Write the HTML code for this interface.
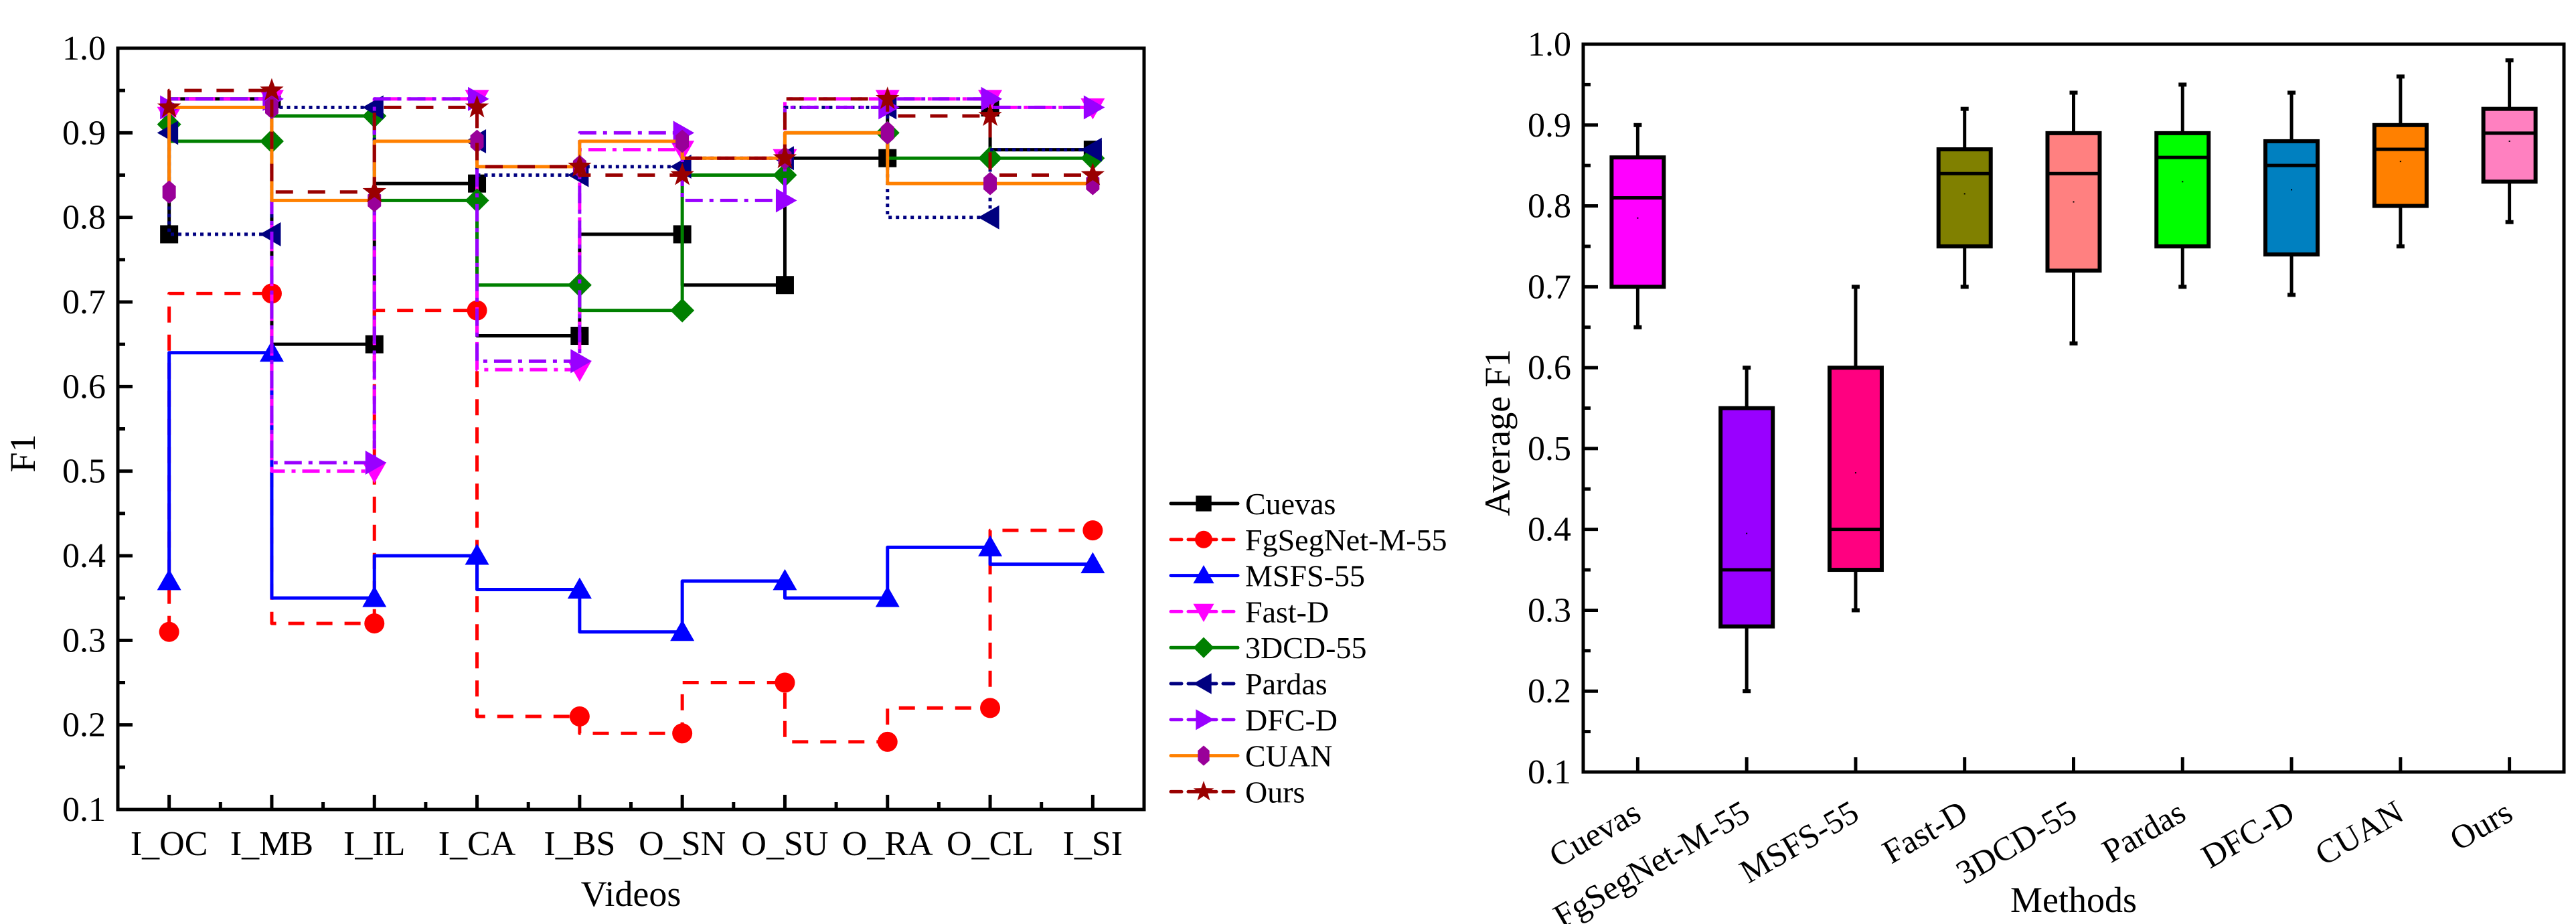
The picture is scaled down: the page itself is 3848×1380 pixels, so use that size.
<!DOCTYPE html>
<html><head><meta charset="utf-8"><style>
html,body{margin:0;padding:0;background:#fff;}
svg{display:block;}
text{font-family:"Liberation Serif","Times New Roman","DejaVu Serif",serif;}
</style></head>
<body>
<svg id="chart" width="3848" height="1380" viewBox="0 0 3848 1380" xmlns="http://www.w3.org/2000/svg" font-family="Liberation Serif, serif">
<g id="left"></g>
<g id="right"></g>
</svg>
<script>
// ---------- Left chart data ----------
const videos = ["I_OC","I_MB","I_IL","I_CA","I_BS","O_SN","O_SU","O_RA","O_CL","I_SI"];
const seriesNames = ["Cuevas","FgSegNet-M-55","MSFS-55","Fast-D","3DCD-55","Pardas","DFC-D","CUAN","Ours"];
const cuevas   = [0.78,0.94,0.65,0.84,0.66,0.78,0.72,0.87,0.93,0.88];
const fgsegnet = [0.31,0.71,0.32,0.69,0.21,0.19,0.25,0.18,0.22,0.43];
const msfs     = [0.37,0.64,0.35,0.40,0.36,0.31,0.37,0.35,0.41,0.39];
const fastd    = [0.92,0.94,0.50,0.94,0.62,0.88,0.87,0.94,0.94,0.93];
const dcd3     = [0.91,0.89,0.92,0.82,0.72,0.69,0.85,0.90,0.87,0.87];
const pardas   = [0.90,0.78,0.93,0.89,0.85,0.86,0.87,0.93,0.80,0.88];
const dfcd     = [0.93,0.94,0.51,0.94,0.63,0.90,0.82,0.93,0.94,0.93];
const cuan     = [0.83,0.93,0.82,0.89,0.86,0.89,0.87,0.90,0.84,0.84];
const ours     = [0.93,0.95,0.83,0.93,0.86,0.85,0.87,0.94,0.92,0.85];
const yTicks = ["0.1","0.2","0.3","0.4","0.5","0.6","0.7","0.8","0.9","1.0"];

// ---------- Right chart data ----------
const methods = ["Cuevas","FgSegNet-M-55","MSFS-55","Fast-D","3DCD-55","Pardas","DFC-D","CUAN","Ours"];
const bMin = [0.65,0.20,0.30,0.70,0.63,0.70,0.69,0.75,0.78];
const bQ1  = [0.70,0.28,0.35,0.75,0.72,0.75,0.74,0.80,0.83];
const bMed = [0.81,0.35,0.40,0.84,0.84,0.86,0.85,0.87,0.89];
const bQ3  = [0.86,0.55,0.60,0.87,0.89,0.89,0.88,0.90,0.92];
const bMax = [0.90,0.60,0.70,0.92,0.94,0.95,0.94,0.96,0.98];
const bMean= [0.785,0.395,0.47,0.815,0.805,0.83,0.82,0.855,0.88];

const NS="http://www.w3.org/2000/svg";
const FONT='"Liberation Serif", "Times New Roman", serif';
function mk(tag, attrs, parent){const e=document.createElementNS(NS,tag);for(const k in attrs)e.setAttribute(k,attrs[k]);if(tag==='text')e.setAttribute('font-family',FONT);parent.appendChild(e);return e;}

// ===== LEFT =====
const L = document.getElementById('left');
const lx0=176, lx1=1709, ly0=72, ly1=1209;
const lStep=(lx1-lx0)/videos.length;
const lxs=i=>lx0+lStep/2+i*lStep;
const lys=v=>ly1-(v-0.1)/0.9*(ly1-ly0);

for(let i=0;i<yTicks.length;i++){
  const v=+yTicks[i], y=lys(v);
  const t=mk('line',{x1:lx0,y1:y,x2:lx0+22,y2:y,stroke:'#000','stroke-width':5},L);
   
  if(i<yTicks.length-1){const ym=lys(v+0.05);const m=mk('line',{x1:lx0,y1:ym,x2:lx0+11,y2:ym,stroke:'#000','stroke-width':5},L);
   }
  const tx=mk('text',{x:lx0-18,y:y+17,'font-size':52,'text-anchor':'end'},L); tx.textContent=yTicks[i];
   
}
for(let i=0;i<videos.length;i++){
  const x=lxs(i);
  const t=mk('line',{x1:x,y1:ly1,x2:x,y2:ly1-22,stroke:'#000','stroke-width':5},L);
   
  if(i<videos.length-1){const m=mk('line',{x1:x+lStep/2,y1:ly1,x2:x+lStep/2,y2:ly1-11,stroke:'#000','stroke-width':5},L);
   }
  const tx=mk('text',{x:x,y:ly1+68,'font-size':52,'text-anchor':'middle'},L); tx.textContent=videos[i];
   
}
let t1=mk('text',{x:(lx0+lx1)/2,y:1353,'font-size':54,'text-anchor':'middle'},L); t1.textContent='Videos';
 
t1=mk('text',{x:0,y:0,'font-size':54,'text-anchor':'middle',transform:'translate(52,677) rotate(-90)'},L); t1.textContent='F1';
 

const styles=[
 {d:cuevas,c:'#000000',mc:'#000000',dash:'',m:'square'},
 {d:fgsegnet,c:'#ff0000',mc:'#ff0000',dash:'24 18',m:'circle'},
 {d:msfs,c:'#0000ff',mc:'#0000ff',dash:'',m:'up'},
 {d:fastd,c:'#ff00ff',mc:'#ff00ff',dash:'26 10 6 10',m:'down'},
 {d:dcd3,c:'#008000',mc:'#008000',dash:'',m:'diamond'},
 {d:pardas,c:'#000080',mc:'#000080',dash:'5 6',m:'left'},
 {d:dfcd,c:'#9900ff',mc:'#9900ff',dash:'26 10 6 10',m:'right'},
 {d:cuan,c:'#ff8000',mc:'#990099',dash:'',m:'hex'},
 {d:ours,c:'#990000',mc:'#990000',dash:'26 22',m:'star'}
];
function marker(type,x,y,s,col,parent){
  let e;
  if(type==='square') e=mk('rect',{x:x-s*0.45,y:y-s*0.45,width:s*0.9,height:s*0.9,fill:col},parent);
  else if(type==='circle') e=mk('circle',{cx:x,cy:y,r:s*0.5,fill:col},parent);
  else {
    let pts;
    const h=s*0.6;
    if(type==='up') pts=[[x,y-h],[x+h,y+h*0.75],[x-h,y+h*0.75]];
    else if(type==='down') pts=[[x,y+h],[x+h,y-h*0.75],[x-h,y-h*0.75]];
    else if(type==='left') pts=[[x-h,y],[x+h*0.75,y-h],[x+h*0.75,y+h]];
    else if(type==='right') pts=[[x+h,y],[x-h*0.75,y-h],[x-h*0.75,y+h]];
    else if(type==='diamond') pts=[[x,y-h],[x+h,y],[x,y+h],[x-h,y]];
    else if(type==='hex'){pts=[];for(let k=0;k<6;k++){const a=Math.PI/2+k*Math.PI/3;pts.push([x+s*0.48*Math.cos(a)*0.8,y+s*0.58*Math.sin(a)]);}}
    else if(type==='star'){pts=[];for(let k=0;k<10;k++){const a=-Math.PI/2+k*Math.PI/5;const r=k%2?s*0.25:s*0.62;pts.push([x+r*Math.cos(a),y+r*Math.sin(a)]);}}
    e=mk('polygon',{points:pts.map(p=>p.join(',')).join(' '),fill:col},parent);
  }
  return e;
}
styles.forEach((st,si)=>{
  const g=mk('g',{},L);
  
  
  let d='M'+lxs(0)+' '+lys(st.d[0]);
  for(let i=0;i<st.d.length-1;i++){d+=' V'+lys(st.d[i+1])+' H'+lxs(i+1);}
  const p=mk('path',{d:d,fill:'none',stroke:st.c,'stroke-width':5,'stroke-dasharray':st.dash,'stroke-linejoin':'round'},g);
   
  st.d.forEach((v,i)=>{const m=marker(st.m,lxs(i),lys(v),30,st.mc,g);
     });
  const ly=752+si*53.8;
  const lg=mk('g',{},L);
   
  mk('line',{x1:1749,y1:ly,x2:1849,y2:ly,stroke:st.c,'stroke-width':5,'stroke-dasharray':st.dash?'16 10':'','stroke-linecap':'round'},lg);
  marker(st.m,1798,ly,26,st.mc,lg);
  const lt=mk('text',{x:1860,y:ly+16,'font-size':46},lg); lt.textContent=seriesNames[si];
});
let fr=mk('rect',{x:lx0,y:ly0,width:lx1-lx0,height:ly1-ly0,fill:'none',stroke:'#000','stroke-width':5},L);
 

// ===== RIGHT =====
const R=document.getElementById('right');
const rx0=2365, rx1=3830, ry0=66, ry1=1153;
const rStep=(rx1-rx0)/methods.length;
const rxs=i=>rx0+rStep/2+i*rStep;
const rys=v=>ry1-(v-0.1)/0.9*(ry1-ry0);
const boxColors=['#ff00ff','#9900ff','#ff0080','#808000','#ff8080','#00ff00','#0080c0','#ff8000','#ff80c0'];
for(let i=0;i<yTicks.length;i++){
  const v=+yTicks[i], y=rys(v);
  const t=mk('line',{x1:rx0,y1:y,x2:rx0+22,y2:y,stroke:'#000','stroke-width':5},R);
   
  if(i<yTicks.length-1){const ym=rys(v+0.05);const m=mk('line',{x1:rx0,y1:ym,x2:rx0+11,y2:ym,stroke:'#000','stroke-width':5},R);
   }
  const tx=mk('text',{x:rx0-18,y:y+17,'font-size':52,'text-anchor':'end'},R); tx.textContent=yTicks[i];
   
}
methods.forEach((m,i)=>{
  const x=rxs(i), bw=78;
  const t=mk('line',{x1:x,y1:ry1,x2:x,y2:ry1-22,stroke:'#000','stroke-width':5},R);
   
  const g=mk('g',{},R);
   
  mk('line',{x1:x,y1:rys(bMax[i]),x2:x,y2:rys(bQ3[i]),stroke:'#000','stroke-width':5},g);
  mk('line',{x1:x,y1:rys(bMin[i]),x2:x,y2:rys(bQ1[i]),stroke:'#000','stroke-width':5},g);
  mk('line',{x1:x-6,y1:rys(bMax[i]),x2:x+6,y2:rys(bMax[i]),stroke:'#000','stroke-width':6},g);
  mk('line',{x1:x-6,y1:rys(bMin[i]),x2:x+6,y2:rys(bMin[i]),stroke:'#000','stroke-width':6},g);
  mk('rect',{x:x-bw/2,y:rys(bQ3[i]),width:bw,height:rys(bQ1[i])-rys(bQ3[i]),fill:boxColors[i],stroke:'#000','stroke-width':6},g);
  mk('line',{x1:x-bw/2,y1:rys(bMed[i]),x2:x+bw/2,y2:rys(bMed[i]),stroke:'#000','stroke-width':5},g);
  mk('rect',{x:x-1,y:rys(bMean[i])-1,width:2,height:2,fill:'#000'},g);
  const tx=mk('text',{x:0,y:0,'font-size':50,'text-anchor':'end',transform:'translate('+(x+8)+','+(ry1+70)+') rotate(-30)'},R);
  tx.textContent=m;
   
});
t1=mk('text',{x:(rx0+rx1)/2,y:1362,'font-size':54,'text-anchor':'middle'},R); t1.textContent='Methods';
 
t1=mk('text',{x:0,y:0,'font-size':54,'text-anchor':'middle',transform:'translate(2255,646) rotate(-90)'},R); t1.textContent='Average F1';
 
fr=mk('rect',{x:rx0,y:ry0,width:rx1-rx0,height:ry1-ry0,fill:'none',stroke:'#000','stroke-width':5},R);
 
</script>
</body></html>
